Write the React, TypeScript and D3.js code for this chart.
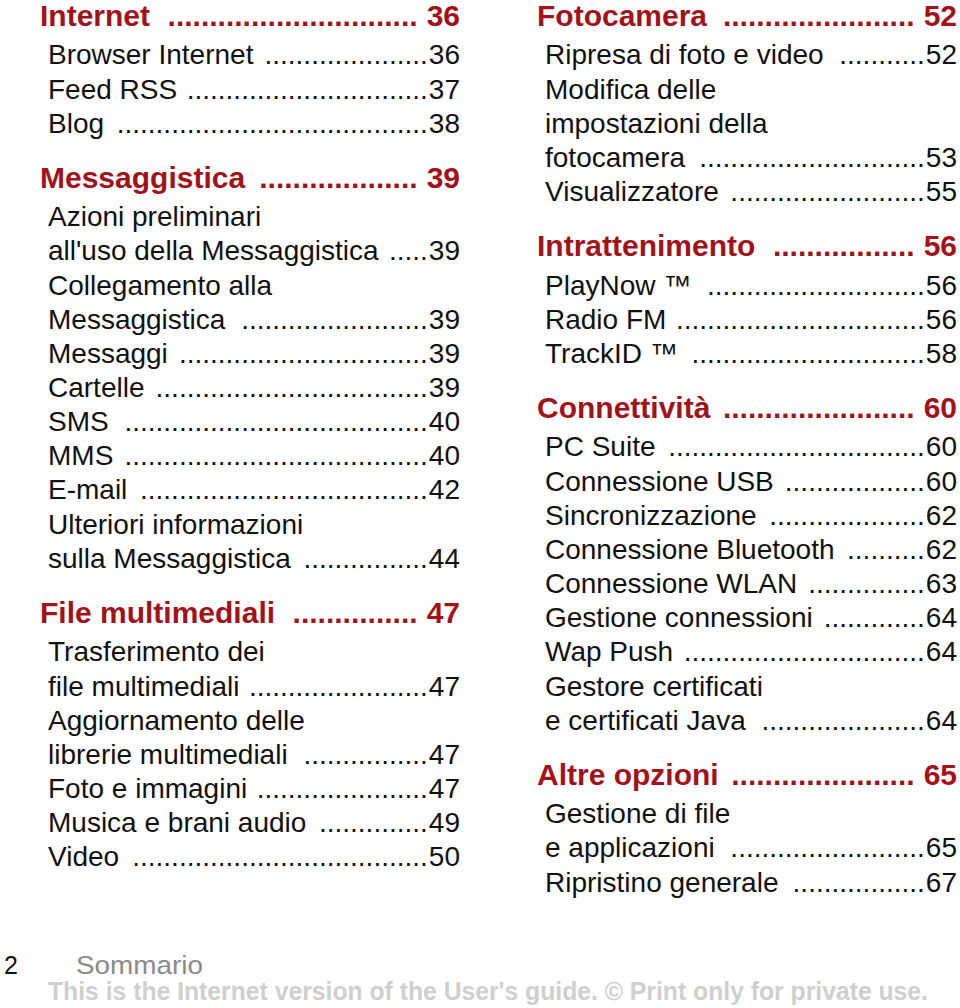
import React, { useEffect, useRef } from "react";
import * as d3 from "d3";

// level: "h" = section heading, "s" = sub entry; page "" = wrapped line without page
const leftLevels = ["h","s","s","s","h","s","s","s","s","s","s","s","s","s","s","s","h","s","s","s","s","s","s","s"];
const leftLabels = [
  "Internet", "Browser Internet", "Feed RSS", "Blog",
  "Messaggistica", "Azioni preliminari", "all'uso della Messaggistica", "Collegamento alla", "Messaggistica",
  "Messaggi", "Cartelle", "SMS", "MMS", "E-mail", "Ulteriori informazioni", "sulla Messaggistica",
  "File multimediali", "Trasferimento dei", "file multimediali", "Aggiornamento delle", "librerie multimediali",
  "Foto e immagini", "Musica e brani audio", "Video",
];
const leftPages = [
  "36", "36", "37", "38",
  "39", "", "39", "", "39",
  "39", "39", "40", "40", "42", "", "44",
  "47", "", "47", "", "47",
  "47", "49", "50",
];

const rightLevels = ["h","s","s","s","s","s","h","s","s","s","h","s","s","s","s","s","s","s","s","s","h","s","s","s"];
const rightLabels = [
  "Fotocamera", "Ripresa di foto e video", "Modifica delle", "impostazioni della", "fotocamera", "Visualizzatore",
  "Intrattenimento", "PlayNow \u2122", "Radio FM", "TrackID \u2122",
  "Connettivit\u00e0", "PC Suite", "Connessione USB", "Sincronizzazione", "Connessione Bluetooth",
  "Connessione WLAN", "Gestione connessioni", "Wap Push", "Gestore certificati", "e certificati Java",
  "Altre opzioni", "Gestione di file", "e applicazioni", "Ripristino generale",
];
const rightPages = [
  "52", "52", "", "", "53", "55",
  "56", "56", "56", "58",
  "60", "60", "60", "62", "62",
  "63", "64", "64", "", "64",
  "65", "", "65", "67",
];

const footerPage = "2";
const footerSection = "Sommario";
const footerNote = "This is the Internet version of the User's guide. \u00a9 Print only for private use.";

const W = 960;
const H = 1008;
const RED = "#a3121b";
const FONT = "'Liberation Sans', Arial, Helvetica, sans-serif";

export default function App() {
  const ref = useRef<SVGSVGElement | null>(null);

  useEffect(() => {
    const svg = d3.select(ref.current);
    svg.selectAll("*").remove();

    const style = {
      h: { size: 30, weight: "bold", color: RED, indent: 0, gapR: 9, base: 0.358 },
      s: { size: 28, weight: "normal", color: "#111", indent: 8, gapR: 1, base: 0.335 },
    } as const;

    const drawColumn = (levels: string[], labels: string[], pages: string[], x0: number, xr: number) => {
      const g = svg.append("g");
      let cy = 15;
      levels.forEach((lv, i) => {
        if (i > 0) {
          const prev = levels[i - 1];
          if (lv === "h") cy += 53.6;
          else if (prev === "h") cy += 40;
          else cy += 34.15;
        }
        const st = style[lv as "h" | "s"];
        const base = cy + st.size * st.base;
        const common = (t: any) =>
          t.attr("font-family", FONT).attr("font-size", st.size).attr("font-weight", st.weight).attr("fill", st.color);

        const lab = g.append("text").attr("x", x0 + st.indent).attr("y", base).text(labels[i]);
        common(lab);
        const page = pages[i];
        if (!page) return;
        const num = g.append("text").attr("x", xr).attr("y", base).attr("text-anchor", "end").text(page);
        common(num);
        const labEnd = x0 + st.indent + (lab.node() as SVGTextElement).getComputedTextLength();
        const numStart = xr - (num.node() as SVGTextElement).getComputedTextLength();
        const probe = g.append("text").text("..........");
        common(probe);
        const dotW = (probe.node() as SVGTextElement).getComputedTextLength() / 10;
        probe.remove();
        const end = numStart - st.gapR;
        const start = labEnd + dotW * 1.2;
        const n = Math.max(0, Math.floor((end - start) / dotW));
        const dots = g.append("text").attr("x", end).attr("y", base).attr("text-anchor", "end").text(".".repeat(n));
        common(dots);
      });
    };

    drawColumn(leftLevels, leftLabels, leftPages, 40, 460);
    drawColumn(rightLevels, rightLabels, rightPages, 537, 957);

    svg.append("text").attr("x", 4).attr("y", 974).attr("font-family", FONT).attr("font-size", 25)
      .attr("fill", "#111").text(footerPage);
    svg.append("text").attr("x", 76).attr("y", 974).attr("font-family", FONT).attr("font-size", 25)
      .attr("fill", "#8a8a8a").attr("textLength", 127).attr("lengthAdjust", "spacingAndGlyphs").text(footerSection);
    svg.append("text").attr("x", 48).attr("y", 1000).attr("font-family", FONT).attr("font-size", 25)
      .attr("font-weight", "bold").attr("fill", "#cfcfcf").attr("textLength", 880)
      .attr("lengthAdjust", "spacingAndGlyphs").text(footerNote);
  }, []);

  return (
    <svg ref={ref} width={W} height={H} style={{ position: "absolute", left: 0, top: 0, background: "#fff" }} />
  );
}
